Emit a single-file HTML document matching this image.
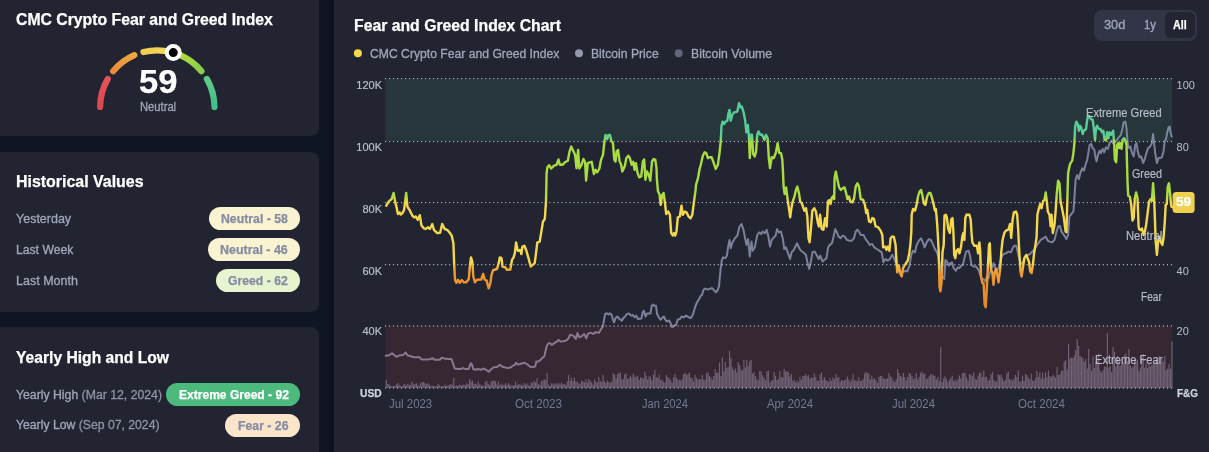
<!DOCTYPE html>
<html lang="en"><head><meta charset="utf-8"><title>CMC Crypto Fear and Greed Index</title>
<style>
html,body{margin:0;padding:0}
body{width:1209px;height:452px;overflow:hidden;position:relative;background:#0f1523;font-family:"Liberation Sans",sans-serif}
.abs{position:absolute}
.card{position:absolute;background:#222531}
.t{position:absolute;white-space:nowrap;display:inline-block}
.b{position:absolute;border-radius:12px}
</style></head><body>
<div class="card" style="left:0;top:0;width:319px;height:135.7px;border-radius:0 0 8px 0"></div>
<div class="card" style="left:0;top:151.6px;width:319px;height:160.4px;border-radius:0 8px 8px 0"></div>
<div class="card" style="left:0;top:327.3px;width:319px;height:125px;border-radius:0 8px 0 0"></div>
<div class="abs" style="left:328.8px;top:0;width:6px;height:452px;background:#0b111d"></div>
<div class="card" style="left:334px;top:0;width:875px;height:452px"></div>
<div class="abs" style="left:1093.7px;top:9.8px;width:103.7px;height:31.3px;border-radius:8px;background:#323546"></div>
<div class="abs" style="left:1164.8px;top:11.6px;width:30px;height:26.4px;border-radius:6px;background:#222531"></div>
<svg class="abs" style="left:0;top:0" width="319" height="136" viewBox="0 0 319 136"><defs><linearGradient id="g0" gradientUnits="userSpaceOnUse" x1="100.1" y1="107.0" x2="107.8" y2="78.9"><stop offset="0" stop-color="#dc474e"/><stop offset="1" stop-color="#e3525a"/></linearGradient><linearGradient id="g1" gradientUnits="userSpaceOnUse" x1="113.1" y1="71.2" x2="134.3" y2="55.1"><stop offset="0" stop-color="#ea8a36"/><stop offset="1" stop-color="#efab42"/></linearGradient><linearGradient id="g2" gradientUnits="userSpaceOnUse" x1="143.5" y1="52.0" x2="171.1" y2="52.0"><stop offset="0" stop-color="#f1cc55"/><stop offset="1" stop-color="#f3da5c"/></linearGradient><linearGradient id="g3" gradientUnits="userSpaceOnUse" x1="180.3" y1="55.1" x2="201.5" y2="71.2"><stop offset="0" stop-color="#b4da3a"/><stop offset="1" stop-color="#86cf4e"/></linearGradient><linearGradient id="g4" gradientUnits="userSpaceOnUse" x1="206.8" y1="78.9" x2="214.5" y2="107.0"><stop offset="0" stop-color="#62c985"/><stop offset="1" stop-color="#41c08c"/></linearGradient></defs><g fill="none" stroke-width="6.2" stroke-linecap="round"><path d="M100.10 107.00A57.2 57.2 0 0 1 107.76 78.90" stroke="url(#g0)"/><path d="M113.10 71.19A57.2 57.2 0 0 1 134.31 55.12" stroke="url(#g1)"/><path d="M143.46 52.00A57.2 57.2 0 0 1 171.14 52.00" stroke="url(#g2)"/><path d="M180.29 55.12A57.2 57.2 0 0 1 201.50 71.19" stroke="url(#g3)"/><path d="M206.84 78.90A57.2 57.2 0 0 1 214.50 107.00" stroke="url(#g4)"/></g><circle cx="173.26" cy="52.57" r="6.5" fill="#000" stroke="#fff" stroke-width="4"/></svg>
<svg class="abs" style="left:0;top:0" width="1209" height="452" viewBox="0 0 1209 452">
<defs><linearGradient id="fg" gradientUnits="userSpaceOnUse" x1="0" y1="78" x2="0" y2="388">
<stop offset="0.0000" stop-color="#4ecb9c"/><stop offset="0.1855" stop-color="#5bcc96"/><stop offset="0.2081" stop-color="#a8dc40"/><stop offset="0.3774" stop-color="#a8dc40"/><stop offset="0.4032" stop-color="#f3d74c"/><stop offset="0.5968" stop-color="#f3d74c"/><stop offset="0.6113" stop-color="#f2b540"/><stop offset="0.6290" stop-color="#ee9a33"/><stop offset="0.7161" stop-color="#e88a2a"/><stop offset="0.8129" stop-color="#e8862c"/><stop offset="1.0000" stop-color="#ea3943"/>
</linearGradient></defs>
<path d="M385.70 388V380.0h1.15V388zM387.14 388V384.1h1.15V388zM388.57 388V384.2h1.15V388zM390.01 388V385.7h1.15V388zM391.45 388V386.2h1.15V388zM392.88 388V385.9h1.15V388zM394.32 388V385.8h1.15V388zM395.75 388V384.6h1.15V388zM397.19 388V382.9h1.15V388zM398.63 388V384.7h1.15V388zM400.06 388V386.0h1.15V388zM401.50 388V386.2h1.15V388zM402.94 388V384.4h1.15V388zM404.37 388V384.3h1.15V388zM405.81 388V385.4h1.15V388zM407.25 388V383.8h1.15V388zM408.68 388V385.1h1.15V388zM410.12 388V384.8h1.15V388zM411.55 388V381.7h1.15V388zM412.99 388V384.5h1.15V388zM414.43 388V383.9h1.15V388zM415.86 388V383.3h1.15V388zM417.30 388V384.7h1.15V388zM418.74 388V385.7h1.15V388zM420.17 388V382.8h1.15V388zM421.61 388V382.1h1.15V388zM423.05 388V382.1h1.15V388zM424.48 388V383.2h1.15V388zM425.92 388V384.2h1.15V388zM427.36 388V382.9h1.15V388zM428.79 388V384.6h1.15V388zM430.23 388V385.9h1.15V388zM431.66 388V385.7h1.15V388zM433.10 388V385.8h1.15V388zM434.54 388V386.2h1.15V388zM435.97 388V386.3h1.15V388zM437.41 388V383.8h1.15V388zM438.85 388V384.9h1.15V388zM440.28 388V386.3h1.15V388zM441.72 388V385.9h1.15V388zM443.16 388V385.9h1.15V388zM444.59 388V384.6h1.15V388zM446.03 388V385.8h1.15V388zM447.46 388V385.5h1.15V388zM448.90 388V384.7h1.15V388zM450.34 388V384.0h1.15V388zM451.77 388V384.7h1.15V388zM453.21 388V378.0h1.15V388zM454.65 388V385.7h1.15V388zM456.08 388V385.2h1.15V388zM457.52 388V385.8h1.15V388zM458.96 388V384.5h1.15V388zM460.39 388V385.2h1.15V388zM461.83 388V385.0h1.15V388zM463.26 388V384.7h1.15V388zM464.70 388V385.0h1.15V388zM466.14 388V383.4h1.15V388zM467.57 388V383.9h1.15V388zM469.01 388V379.0h1.15V388zM470.45 388V381.4h1.15V388zM471.88 388V380.4h1.15V388zM473.32 388V383.7h1.15V388zM474.76 388V383.7h1.15V388zM476.19 388V384.6h1.15V388zM477.63 388V381.5h1.15V388zM479.06 388V384.4h1.15V388zM480.50 388V384.7h1.15V388zM481.94 388V385.6h1.15V388zM483.37 388V386.1h1.15V388zM484.81 388V382.0h1.15V388zM486.25 388V380.8h1.15V388zM487.68 388V383.8h1.15V388zM489.12 388V384.9h1.15V388zM490.56 388V381.6h1.15V388zM491.99 388V381.0h1.15V388zM493.43 388V380.2h1.15V388zM494.86 388V381.3h1.15V388zM496.30 388V384.6h1.15V388zM497.74 388V381.4h1.15V388zM499.17 388V385.3h1.15V388zM500.61 388V383.8h1.15V388zM502.05 388V385.0h1.15V388zM503.48 388V385.2h1.15V388zM504.92 388V383.3h1.15V388zM506.36 388V384.9h1.15V388zM507.79 388V383.1h1.15V388zM509.23 388V384.6h1.15V388zM510.67 388V385.5h1.15V388zM512.10 388V385.5h1.15V388zM513.54 388V385.3h1.15V388zM514.97 388V381.6h1.15V388zM516.41 388V384.8h1.15V388zM517.85 388V384.4h1.15V388zM519.28 388V384.2h1.15V388zM520.72 388V384.4h1.15V388zM522.16 388V385.4h1.15V388zM523.59 388V382.9h1.15V388zM525.03 388V384.5h1.15V388zM526.47 388V383.5h1.15V388zM527.90 388V385.4h1.15V388zM529.34 388V385.3h1.15V388zM530.77 388V382.6h1.15V388zM532.21 388V382.8h1.15V388zM533.65 388V380.8h1.15V388zM535.08 388V382.3h1.15V388zM536.52 388V378.0h1.15V388zM537.96 388V384.1h1.15V388zM539.39 388V384.9h1.15V388zM540.83 388V381.1h1.15V388zM542.27 388V380.4h1.15V388zM543.70 388V378.9h1.15V388zM545.14 388V380.2h1.15V388zM546.57 388V373.0h1.15V388zM548.01 388V384.6h1.15V388zM549.45 388V385.9h1.15V388zM550.88 388V383.2h1.15V388zM552.32 388V383.6h1.15V388zM553.76 388V384.6h1.15V388zM555.19 388V383.3h1.15V388zM556.63 388V384.2h1.15V388zM558.07 388V382.9h1.15V388zM559.50 388V384.5h1.15V388zM560.94 388V382.2h1.15V388zM562.37 388V383.9h1.15V388zM563.81 388V383.9h1.15V388zM565.25 388V385.1h1.15V388zM566.68 388V381.4h1.15V388zM568.12 388V375.0h1.15V388zM569.56 388V380.4h1.15V388zM570.99 388V377.9h1.15V388zM572.43 388V381.0h1.15V388zM573.87 388V377.7h1.15V388zM575.30 388V381.5h1.15V388zM576.74 388V381.8h1.15V388zM578.17 388V383.4h1.15V388zM579.61 388V383.5h1.15V388zM581.05 388V380.8h1.15V388zM582.48 388V381.6h1.15V388zM583.92 388V382.4h1.15V388zM585.36 388V379.3h1.15V388zM586.79 388V382.8h1.15V388zM588.23 388V379.0h1.15V388zM589.67 388V380.9h1.15V388zM591.10 388V382.3h1.15V388zM592.54 388V384.4h1.15V388zM593.98 388V379.4h1.15V388zM595.41 388V381.4h1.15V388zM596.85 388V382.6h1.15V388zM598.28 388V376.9h1.15V388zM599.72 388V380.9h1.15V388zM601.16 388V381.9h1.15V388zM602.59 388V375.0h1.15V388zM604.03 388V381.4h1.15V388zM605.47 388V382.8h1.15V388zM606.90 388V380.6h1.15V388zM608.34 388V381.9h1.15V388zM609.78 388V382.7h1.15V388zM611.21 388V381.4h1.15V388zM612.65 388V373.0h1.15V388zM614.08 388V374.6h1.15V388zM615.52 388V378.1h1.15V388zM616.96 388V374.3h1.15V388zM618.39 388V373.0h1.15V388zM619.83 388V372.5h1.15V388zM621.27 388V379.5h1.15V388zM622.70 388V378.8h1.15V388zM624.14 388V374.4h1.15V388zM625.58 388V372.9h1.15V388zM627.01 388V379.0h1.15V388zM628.45 388V377.8h1.15V388zM629.88 388V375.7h1.15V388zM631.32 388V377.6h1.15V388zM632.76 388V373.8h1.15V388zM634.19 388V376.8h1.15V388zM635.63 388V376.8h1.15V388zM637.07 388V375.8h1.15V388zM638.50 388V380.0h1.15V388zM639.94 388V377.1h1.15V388zM641.38 388V377.9h1.15V388zM642.81 388V378.5h1.15V388zM644.25 388V371.5h1.15V388zM645.68 388V375.8h1.15V388zM647.12 388V379.6h1.15V388zM648.56 388V376.3h1.15V388zM649.99 388V377.1h1.15V388zM651.43 388V380.4h1.15V388zM652.87 388V374.8h1.15V388zM654.30 388V370.0h1.15V388zM655.74 388V376.9h1.15V388zM657.18 388V377.9h1.15V388zM658.61 388V374.4h1.15V388zM660.05 388V380.3h1.15V388zM661.49 388V379.2h1.15V388zM662.92 388V381.4h1.15V388zM664.36 388V382.4h1.15V388zM665.79 388V375.1h1.15V388zM667.23 388V377.1h1.15V388zM668.67 388V378.2h1.15V388zM670.10 388V380.6h1.15V388zM671.54 388V383.1h1.15V388zM672.98 388V377.3h1.15V388zM674.41 388V373.7h1.15V388zM675.85 388V377.7h1.15V388zM677.29 388V379.3h1.15V388zM678.72 388V379.8h1.15V388zM680.16 388V380.5h1.15V388zM681.59 388V379.0h1.15V388zM683.03 388V374.1h1.15V388zM684.47 388V372.4h1.15V388zM685.90 388V374.8h1.15V388zM687.34 388V374.2h1.15V388zM688.78 388V372.5h1.15V388zM690.21 388V377.5h1.15V388zM691.65 388V378.3h1.15V388zM693.09 388V381.5h1.15V388zM694.52 388V375.0h1.15V388zM695.96 388V377.8h1.15V388zM697.39 388V380.1h1.15V388zM698.83 388V379.1h1.15V388zM700.27 388V379.0h1.15V388zM701.70 388V375.0h1.15V388zM703.14 388V379.5h1.15V388zM704.58 388V380.0h1.15V388zM706.01 388V373.2h1.15V388zM707.45 388V372.2h1.15V388zM708.89 388V376.0h1.15V388zM710.32 388V377.3h1.15V388zM711.76 388V379.6h1.15V388zM713.19 388V376.1h1.15V388zM714.63 388V369.0h1.15V388zM716.07 388V372.7h1.15V388zM717.50 388V372.5h1.15V388zM718.94 388V362.5h1.15V388zM720.38 388V375.9h1.15V388zM721.81 388V357.4h1.15V388zM723.25 388V371.2h1.15V388zM724.69 388V362.0h1.15V388zM726.12 388V368.0h1.15V388zM727.56 388V366.7h1.15V388zM728.99 388V351.0h1.15V388zM730.43 388V358.0h1.15V388zM731.87 388V367.3h1.15V388zM733.30 388V370.2h1.15V388zM734.74 388V368.6h1.15V388zM736.18 388V372.5h1.15V388zM737.61 388V362.0h1.15V388zM739.05 388V365.0h1.15V388zM740.49 388V369.6h1.15V388zM741.92 388V370.5h1.15V388zM743.36 388V360.0h1.15V388zM744.80 388V367.6h1.15V388zM746.23 388V360.0h1.15V388zM747.67 388V365.9h1.15V388zM749.10 388V361.5h1.15V388zM750.54 388V360.1h1.15V388zM751.98 388V373.8h1.15V388zM753.41 388V372.0h1.15V388zM754.85 388V376.0h1.15V388zM756.29 388V378.5h1.15V388zM757.72 388V380.5h1.15V388zM759.16 388V371.1h1.15V388zM760.60 388V371.5h1.15V388zM762.03 388V375.2h1.15V388zM763.47 388V377.4h1.15V388zM764.90 388V380.2h1.15V388zM766.34 388V371.6h1.15V388zM767.78 388V370.6h1.15V388zM769.21 388V382.7h1.15V388zM770.65 388V380.8h1.15V388zM772.09 388V380.1h1.15V388zM773.52 388V371.8h1.15V388zM774.96 388V375.7h1.15V388zM776.40 388V379.9h1.15V388zM777.83 388V378.8h1.15V388zM779.27 388V371.1h1.15V388zM780.70 388V377.0h1.15V388zM782.14 388V377.2h1.15V388zM783.58 388V369.0h1.15V388zM785.01 388V371.6h1.15V388zM786.45 388V371.0h1.15V388zM787.89 388V372.3h1.15V388zM789.32 388V376.5h1.15V388zM790.76 388V373.9h1.15V388zM792.20 388V380.7h1.15V388zM793.63 388V379.7h1.15V388zM795.07 388V382.4h1.15V388zM796.50 388V380.5h1.15V388zM797.94 388V382.2h1.15V388zM799.38 388V376.8h1.15V388zM800.81 388V379.8h1.15V388zM802.25 388V376.1h1.15V388zM803.69 388V376.1h1.15V388zM805.12 388V373.8h1.15V388zM806.56 388V375.9h1.15V388zM808.00 388V375.3h1.15V388zM809.43 388V378.7h1.15V388zM810.87 388V377.5h1.15V388zM812.30 388V377.8h1.15V388zM813.74 388V373.3h1.15V388zM815.18 388V377.1h1.15V388zM816.61 388V380.5h1.15V388zM818.05 388V381.1h1.15V388zM819.49 388V374.5h1.15V388zM820.92 388V372.2h1.15V388zM822.36 388V380.0h1.15V388zM823.80 388V377.0h1.15V388zM825.23 388V379.8h1.15V388zM826.67 388V380.7h1.15V388zM828.11 388V381.7h1.15V388zM829.54 388V378.0h1.15V388zM830.98 388V381.1h1.15V388zM832.41 388V377.6h1.15V388zM833.85 388V379.1h1.15V388zM835.29 388V373.7h1.15V388zM836.72 388V377.7h1.15V388zM838.16 388V376.9h1.15V388zM839.60 388V381.7h1.15V388zM841.03 388V379.9h1.15V388zM842.47 388V380.7h1.15V388zM843.91 388V380.2h1.15V388zM845.34 388V379.6h1.15V388zM846.78 388V376.6h1.15V388zM848.21 388V379.5h1.15V388zM849.65 388V381.8h1.15V388zM851.09 388V379.5h1.15V388zM852.52 388V373.9h1.15V388zM853.96 388V380.6h1.15V388zM855.40 388V380.2h1.15V388zM856.83 388V381.0h1.15V388zM858.27 388V377.1h1.15V388zM859.71 388V380.9h1.15V388zM861.14 388V380.7h1.15V388zM862.58 388V379.0h1.15V388zM864.01 388V373.6h1.15V388zM865.45 388V371.8h1.15V388zM866.89 388V373.0h1.15V388zM868.32 388V373.6h1.15V388zM869.76 388V379.2h1.15V388zM871.20 388V375.5h1.15V388zM872.63 388V379.3h1.15V388zM874.07 388V378.2h1.15V388zM875.51 388V380.3h1.15V388zM876.94 388V382.7h1.15V388zM878.38 388V376.9h1.15V388zM879.81 388V376.0h1.15V388zM881.25 388V376.0h1.15V388zM882.69 388V378.2h1.15V388zM884.12 388V379.1h1.15V388zM885.56 388V378.8h1.15V388zM887.00 388V378.2h1.15V388zM888.43 388V373.3h1.15V388zM889.87 388V376.5h1.15V388zM891.31 388V377.5h1.15V388zM892.74 388V380.6h1.15V388zM894.18 388V382.0h1.15V388zM895.61 388V379.2h1.15V388zM897.05 388V369.0h1.15V388zM898.49 388V373.0h1.15V388zM899.92 388V376.0h1.15V388zM901.36 388V377.1h1.15V388zM902.80 388V372.9h1.15V388zM904.23 388V377.1h1.15V388zM905.67 388V380.5h1.15V388zM907.11 388V376.7h1.15V388zM908.54 388V373.2h1.15V388zM909.98 388V373.6h1.15V388zM911.42 388V376.1h1.15V388zM912.85 388V379.2h1.15V388zM914.29 388V378.2h1.15V388zM915.72 388V373.3h1.15V388zM917.16 388V379.6h1.15V388zM918.60 388V377.0h1.15V388zM920.03 388V372.8h1.15V388zM921.47 388V371.4h1.15V388zM922.91 388V374.1h1.15V388zM924.34 388V373.6h1.15V388zM925.78 388V379.0h1.15V388zM927.22 388V378.6h1.15V388zM928.65 388V376.3h1.15V388zM930.09 388V374.1h1.15V388zM931.52 388V374.8h1.15V388zM932.96 388V375.3h1.15V388zM934.40 388V376.1h1.15V388zM935.83 388V379.5h1.15V388zM937.27 388V377.3h1.15V388zM938.71 388V380.9h1.15V388zM940.14 388V347.0h1.15V388zM941.58 388V382.1h1.15V388zM943.02 388V378.5h1.15V388zM944.45 388V376.4h1.15V388zM945.89 388V378.8h1.15V388zM947.32 388V382.3h1.15V388zM948.76 388V380.1h1.15V388zM950.20 388V377.9h1.15V388zM951.63 388V376.0h1.15V388zM953.07 388V381.0h1.15V388zM954.51 388V379.5h1.15V388zM955.94 388V381.6h1.15V388zM957.38 388V378.9h1.15V388zM958.82 388V375.4h1.15V388zM960.25 388V378.3h1.15V388zM961.69 388V373.2h1.15V388zM963.12 388V372.7h1.15V388zM964.56 388V372.7h1.15V388zM966.00 388V377.5h1.15V388zM967.43 388V380.6h1.15V388zM968.87 388V374.0h1.15V388zM970.31 388V374.4h1.15V388zM971.74 388V375.9h1.15V388zM973.18 388V372.3h1.15V388zM974.62 388V378.8h1.15V388zM976.05 388V379.7h1.15V388zM977.49 388V375.7h1.15V388zM978.93 388V372.5h1.15V388zM980.36 388V372.7h1.15V388zM981.80 388V377.0h1.15V388zM983.23 388V370.3h1.15V388zM984.67 388V377.1h1.15V388zM986.11 388V376.8h1.15V388zM987.54 388V380.7h1.15V388zM988.98 388V379.7h1.15V388zM990.42 388V374.3h1.15V388zM991.85 388V371.7h1.15V388zM993.29 388V379.7h1.15V388zM994.73 388V381.6h1.15V388zM996.16 388V381.4h1.15V388zM997.60 388V374.2h1.15V388zM999.03 388V375.2h1.15V388zM1000.47 388V374.5h1.15V388zM1001.91 388V378.1h1.15V388zM1003.34 388V381.1h1.15V388zM1004.78 388V379.9h1.15V388zM1006.22 388V373.6h1.15V388zM1007.65 388V371.4h1.15V388zM1009.09 388V378.9h1.15V388zM1010.53 388V379.5h1.15V388zM1011.96 388V380.8h1.15V388zM1013.40 388V378.4h1.15V388zM1014.83 388V375.1h1.15V388zM1016.27 388V376.9h1.15V388zM1017.71 388V370.3h1.15V388zM1019.14 388V382.3h1.15V388zM1020.58 388V380.7h1.15V388zM1022.02 388V375.7h1.15V388zM1023.45 388V381.1h1.15V388zM1024.89 388V374.0h1.15V388zM1026.33 388V375.0h1.15V388zM1027.76 388V377.6h1.15V388zM1029.20 388V379.6h1.15V388zM1030.63 388V373.5h1.15V388zM1032.07 388V380.2h1.15V388zM1033.51 388V380.9h1.15V388zM1034.94 388V377.9h1.15V388zM1036.38 388V371.0h1.15V388zM1037.82 388V377.1h1.15V388zM1039.25 388V372.6h1.15V388zM1040.69 388V378.4h1.15V388zM1042.13 388V372.4h1.15V388zM1043.56 388V378.4h1.15V388zM1045.00 388V372.6h1.15V388zM1046.43 388V377.2h1.15V388zM1047.87 388V370.5h1.15V388zM1049.31 388V376.0h1.15V388zM1050.74 388V377.1h1.15V388zM1052.18 388V375.3h1.15V388zM1053.62 388V375.7h1.15V388zM1055.05 388V377.7h1.15V388zM1056.49 388V367.0h1.15V388zM1057.93 388V374.9h1.15V388zM1059.36 388V374.3h1.15V388zM1060.80 388V370.5h1.15V388zM1062.24 388V371.1h1.15V388zM1063.67 388V361.6h1.15V388zM1065.11 388V360.0h1.15V388zM1066.54 388V369.6h1.15V388zM1067.98 388V344.0h1.15V388zM1069.42 388V358.2h1.15V388zM1070.85 388V357.8h1.15V388zM1072.29 388V358.0h1.15V388zM1073.73 388V355.2h1.15V388zM1075.16 388V350.0h1.15V388zM1076.60 388V339.0h1.15V388zM1078.04 388V346.0h1.15V388zM1079.47 388V356.0h1.15V388zM1080.91 388V357.0h1.15V388zM1082.34 388V358.0h1.15V388zM1083.78 388V361.9h1.15V388zM1085.22 388V359.0h1.15V388zM1086.65 388V368.6h1.15V388zM1088.09 388V349.0h1.15V388zM1089.53 388V363.9h1.15V388zM1090.96 388V370.8h1.15V388zM1092.40 388V356.6h1.15V388zM1093.84 388V367.9h1.15V388zM1095.27 388V361.7h1.15V388zM1096.71 388V361.0h1.15V388zM1098.14 388V353.4h1.15V388zM1099.58 388V370.6h1.15V388zM1101.02 388V372.7h1.15V388zM1102.45 388V370.0h1.15V388zM1103.89 388V366.2h1.15V388zM1105.33 388V367.1h1.15V388zM1106.76 388V333.0h1.15V388zM1108.20 388V367.8h1.15V388zM1109.64 388V366.1h1.15V388zM1111.07 388V372.1h1.15V388zM1112.51 388V347.0h1.15V388zM1113.94 388V352.0h1.15V388zM1115.38 388V366.6h1.15V388zM1116.82 388V356.0h1.15V388zM1118.25 388V360.7h1.15V388zM1119.69 388V365.7h1.15V388zM1121.13 388V363.9h1.15V388zM1122.56 388V362.2h1.15V388zM1124.00 388V355.1h1.15V388zM1125.44 388V353.3h1.15V388zM1126.87 388V361.0h1.15V388zM1128.31 388V349.0h1.15V388zM1129.74 388V365.6h1.15V388zM1131.18 388V367.4h1.15V388zM1132.62 388V366.4h1.15V388zM1134.05 388V360.9h1.15V388zM1135.49 388V360.5h1.15V388zM1136.93 388V359.4h1.15V388zM1138.36 388V370.8h1.15V388zM1139.80 388V367.5h1.15V388zM1141.24 388V357.9h1.15V388zM1142.67 388V353.9h1.15V388zM1144.11 388V367.8h1.15V388zM1145.55 388V363.3h1.15V388zM1146.98 388V368.1h1.15V388zM1148.42 388V364.0h1.15V388zM1149.85 388V366.6h1.15V388zM1151.29 388V364.5h1.15V388zM1152.73 388V364.2h1.15V388zM1154.16 388V363.8h1.15V388zM1155.60 388V360.1h1.15V388zM1157.04 388V363.1h1.15V388zM1158.47 388V356.2h1.15V388zM1159.91 388V363.2h1.15V388zM1161.35 388V358.8h1.15V388zM1162.78 388V361.8h1.15V388zM1164.22 388V355.9h1.15V388zM1165.65 388V369.7h1.15V388zM1167.09 388V368.4h1.15V388zM1168.53 388V364.2h1.15V388zM1169.96 388V368.7h1.15V388zM1171.40 388V341.4h1.15V388z" fill="#858aa3" fill-opacity="0.66"/>
<path d="M385.8 355.7L389.1 355.2L392.0 353.2L394.1 354.9L396.6 356.8L399.9 355.2L403.2 354.9L405.7 352.4L407.4 355.2L410.7 356.2L414.0 357.3L419.8 357.3L421.5 359.5L426.5 359.5L429.8 359.2L432.3 358.2L434.8 359.8L439.8 359.8L441.7 357.8L444.7 358.5L448.0 359.0L451.4 359.0L453.0 363.2L454.7 368.5L457.2 369.0L460.5 369.0L463.0 368.1L465.5 369.1L468.8 369.0L470.0 364.8L471.0 363.2L472.1 365.1L473.3 369.0L475.4 369.8L477.9 369.0L481.2 369.8L483.2 368.5L486.2 369.8L488.7 371.8L490.9 369.5L493.7 367.3L497.0 367.0L499.8 364.8L502.0 366.5L504.5 367.3L507.8 368.1L511.1 367.3L512.8 365.6L514.8 365.1L516.1 362.8L517.8 364.5L520.2 364.0L522.4 363.2L524.7 362.8L527.4 364.5L530.2 366.8L532.7 367.0L535.2 366.5L536.3 361.5L538.5 361.5L540.7 359.8L542.3 357.8L544.3 356.5L545.6 350.7L546.8 345.7L548.5 343.2L550.1 343.2L551.8 344.9L554.3 343.2L556.8 341.6L558.4 339.9L560.6 341.6L563.4 341.2L566.7 340.2L568.9 337.9L570.0 334.7L573.3 335.6L575.8 338.9L577.5 333.1L579.1 337.2L581.6 336.4L584.1 333.9L586.3 338.4L587.9 333.9L590.7 332.7L593.2 333.9L595.7 332.2L599.0 332.7L601.2 328.9L602.9 326.4L604.0 319.8L605.2 314.0L606.8 313.2L608.5 314.5L609.8 313.2L611.5 314.5L612.8 319.0L614.0 322.3L615.6 318.1L617.3 316.5L619.5 319.0L621.8 320.6L623.4 318.1L625.1 316.5L626.8 314.0L628.9 313.5L631.1 315.6L632.7 314.8L634.4 317.3L636.1 315.6L638.0 319.0L641.4 318.5L642.7 312.3L643.9 310.7L645.5 316.5L647.2 313.5L650.5 313.5L651.7 305.7L653.0 304.5L654.3 305.7L656.0 305.7L657.1 314.0L658.8 317.3L660.5 319.8L662.1 318.1L663.8 316.5L665.4 319.8L667.1 321.5L669.3 320.6L670.9 323.9L672.1 327.3L674.2 325.6L676.2 324.8L677.6 319.8L679.9 319.0L681.5 316.5L683.7 317.3L686.2 315.6L688.7 317.3L690.8 318.1L692.8 314.8L695.3 306.5L697.0 302.4L699.1 299.0L700.8 295.7L702.0 294.9L703.6 289.6L705.3 288.6L707.8 289.6L710.2 288.6L712.4 288.3L714.4 290.7L716.1 292.4L717.7 289.9L719.0 286.6L719.6 279.7L720.7 268.1L721.9 259.8L723.2 257.3L725.2 258.2L726.9 255.7L728.2 246.5L729.5 239.9L730.7 248.2L732.4 242.4L734.9 238.2L737.3 235.7L739.5 226.6L741.5 224.1L743.5 229.9L745.1 238.2L746.5 244.9L748.1 239.1L749.8 256.5L751.5 241.6L752.8 250.7L754.8 247.4L757.3 234.9L759.4 232.4L761.1 234.1L762.7 231.6L764.7 233.3L766.7 229.9L768.4 236.6L770.0 246.5L771.7 239.9L773.9 237.4L775.5 235.7L777.2 229.1L778.8 232.4L781.0 231.6L782.7 238.2L784.3 249.0L786.0 247.4L788.0 253.2L790.0 259.0L791.6 252.3L793.8 249.9L795.4 246.5L797.1 243.2L798.8 247.4L800.9 250.7L803.2 252.3L805.9 254.8L807.6 263.1L809.2 268.9L810.9 261.5L812.5 252.3L814.5 251.5L816.5 254.8L818.7 259.0L820.3 255.7L822.5 261.5L824.5 259.8L826.5 258.2L828.1 247.4L829.8 244.9L832.0 243.2L833.6 236.6L835.3 229.1L836.9 232.4L838.6 236.6L840.7 238.2L842.7 235.7L844.7 236.6L846.9 239.9L849.4 240.7L851.9 240.7L854.0 238.2L855.7 231.6L857.3 229.6L859.0 231.6L860.7 234.9L863.5 234.9L865.6 239.1L867.6 241.6L869.6 244.9L872.3 244.0L874.3 247.4L876.8 249.0L879.3 250.7L881.7 252.3L883.4 262.3L885.6 259.0L887.6 260.6L890.0 259.0L892.2 254.8L894.2 258.2L895.9 263.1L898.0 268.0L901.0 272.0L903.5 272.0L905.5 270.7L907.2 271.5L909.3 266.5L911.3 254.9L913.0 250.8L915.0 252.4L916.6 245.0L918.8 240.8L921.0 238.3L922.6 241.6L924.6 247.4L926.6 242.5L928.8 239.1L930.9 240.0L932.9 244.1L934.9 249.1L937.1 252.4L938.2 256.6L940.0 266.0L942.0 276.0L944.2 279.0L945.4 259.9L947.0 261.6L948.7 265.7L950.3 263.2L952.0 262.4L953.7 268.2L955.8 270.7L957.8 267.4L959.5 268.2L961.1 265.7L962.8 264.9L964.4 258.2L966.1 251.6L968.6 250.8L970.2 256.6L971.4 264.9L973.6 266.5L976.1 266.5L978.5 269.9L980.2 274.8L981.9 279.8L983.5 279.0L985.2 281.5L986.8 276.5L988.5 278.2L990.2 271.5L991.8 268.2L993.5 263.2L995.1 267.4L996.8 270.7L998.5 268.2L1000.1 263.2L1001.8 256.6L1003.4 254.1L1005.9 253.3L1008.4 251.6L1010.9 252.4L1012.6 248.3L1014.2 245.8L1016.2 245.8L1017.6 251.6L1019.0 258.0L1021.0 264.0L1023.0 262.0L1024.2 258.2L1026.0 256.0L1030.0 254.0L1034.0 250.0L1038.2 243.3L1040.7 239.9L1043.2 238.3L1045.7 236.6L1047.8 240.8L1049.8 241.6L1052.3 242.4L1054.5 239.9L1056.1 233.3L1058.1 226.7L1059.8 225.8L1061.5 231.6L1063.9 235.0L1066.4 239.1L1068.1 235.0L1069.4 216.4L1071.4 214.0L1073.4 211.5L1074.4 198.2L1075.6 179.9L1077.2 175.0L1078.9 179.1L1080.5 172.5L1082.2 168.3L1083.9 170.8L1085.5 164.7L1087.2 159.7L1088.3 153.1L1089.7 144.8L1091.3 144.0L1092.7 148.1L1094.3 149.8L1095.5 157.2L1096.6 161.4L1098.0 154.8L1099.6 150.6L1101.0 153.1L1102.6 148.9L1104.3 152.3L1105.9 147.3L1107.9 148.9L1109.6 143.1L1111.6 140.6L1113.2 143.1L1115.0 142.0L1117.1 139.8L1118.7 137.3L1120.9 134.8L1122.5 128.2L1123.7 122.4L1125.4 121.6L1126.5 128.2L1127.5 141.5L1128.7 148.1L1130.3 146.5L1132.0 153.1L1133.7 156.4L1135.3 144.8L1136.5 143.1L1137.8 151.4L1139.5 157.2L1141.1 156.4L1143.1 163.0L1144.8 158.9L1146.4 153.1L1148.1 148.1L1150.2 146.5L1151.9 143.1L1153.1 134.0L1154.1 143.1L1155.2 153.1L1156.9 163.0L1158.5 158.1L1160.2 158.1L1161.9 157.2L1163.5 151.4L1164.7 141.5L1166.0 139.0L1167.3 132.3L1168.5 127.4L1169.7 126.5L1170.7 133.2L1171.8 136.5" fill="none" stroke="#7c819a" stroke-width="2" stroke-linejoin="round" stroke-linecap="round"/>
<rect x="385.5" y="78.5" width="786.7" height="63.099999999999994" fill="#4acf95" fill-opacity="0.1"/>
<rect x="385.5" y="325.9" width="786.7" height="62.10000000000002" fill="#ea3943" fill-opacity="0.1"/>
<g stroke="#c6cad6" stroke-width="1.25" stroke-linecap="round" stroke-dasharray="0.01 4"><line x1="385.5" x2="1172.2" y1="78.5" y2="78.5"/><line x1="385.5" x2="1172.2" y1="141.6" y2="141.6"/><line x1="385.5" x2="1172.2" y1="202.6" y2="202.6"/><line x1="385.5" x2="1172.2" y1="264.7" y2="264.7"/><line x1="385.5" x2="1172.2" y1="325.9" y2="325.9"/><line x1="385.5" x2="1172.2" y1="388.0" y2="388.0"/></g>
<path d="M386.3 205.7L389.1 201.2L391.6 199.1L393.6 192.9L395.3 202.4L396.6 207.4L397.9 214.0L399.6 212.4L400.7 214.5L402.4 213.2L404.1 209.9L406.2 192.9L407.4 206.6L409.9 210.7L412.4 215.7L414.0 217.3L415.7 216.5L417.8 219.8L419.8 215.2L421.5 225.6L423.5 228.1L425.6 229.0L428.1 227.3L429.8 229.0L432.3 224.0L433.9 229.8L437.3 233.1L440.1 232.8L442.2 224.0L444.7 229.0L447.2 229.8L449.7 232.8L451.7 235.6L453.0 241.4L453.4 243.3L454.2 264.9L455.0 279.8L456.3 282.8L458.0 279.8L459.7 282.8L461.7 280.1L463.8 282.3L466.3 282.3L468.8 279.0L470.0 264.9L471.0 257.4L472.3 261.6L473.3 276.5L474.9 282.3L477.1 279.8L481.2 279.5L483.2 274.0L484.6 279.5L486.6 280.6L488.7 288.4L490.4 283.1L491.5 274.8L493.2 270.2L497.0 269.0L498.7 263.2L499.8 257.4L501.5 258.2L502.5 266.5L505.3 267.4L507.0 269.9L510.3 269.5L512.0 259.9L513.6 257.4L514.8 253.3L516.1 242.5L517.8 250.8L520.2 249.9L521.4 254.1L522.4 246.6L524.4 245.8L526.4 250.8L528.5 258.2L530.7 266.5L532.7 264.9L534.7 263.2L536.0 253.3L537.3 242.5L539.7 241.6L541.3 232.0L543.0 221.5L544.8 219.0L546.0 201.6L546.6 173.1L547.4 167.3L549.1 165.2L551.2 168.5L554.1 165.7L556.6 164.8L558.5 159.5L559.9 164.8L562.4 164.8L564.9 162.3L567.8 160.7L569.5 151.6L571.2 146.6L573.2 150.7L575.1 154.9L576.5 168.2L578.1 149.9L579.3 168.5L581.5 164.8L583.4 159.0L585.1 162.3L586.1 180.6L587.8 163.2L589.8 162.3L591.7 161.8L593.9 174.0L595.6 169.8L597.2 172.3L599.4 168.5L601.0 159.9L603.0 154.9L604.4 141.6L605.5 135.0L607.2 139.1L608.3 135.0L610.0 135.0L611.3 140.8L613.0 143.3L614.3 159.9L615.5 161.5L616.6 151.6L618.0 149.9L619.6 161.5L621.0 164.0L622.3 171.5L623.8 168.2L624.9 165.7L626.3 158.2L628.3 155.7L629.9 158.2L631.6 164.8L633.2 161.8L634.6 169.8L635.9 163.2L637.6 173.1L639.2 177.3L641.2 176.5L642.9 161.5L644.2 159.5L645.4 179.8L647.0 171.5L648.7 174.8L650.3 180.6L652.0 161.5L653.7 159.0L655.3 159.9L656.5 168.2L656.8 178.0L657.9 190.8L659.6 194.9L660.7 204.9L662.1 194.9L663.6 192.9L664.9 202.4L666.2 214.0L668.2 211.5L669.9 214.8L671.2 233.1L672.9 235.6L674.0 233.1L675.2 235.6L676.5 231.4L677.8 217.3L679.8 216.5L681.5 205.7L682.8 214.8L684.8 211.5L686.5 212.3L688.5 216.5L690.6 218.2L692.3 214.8L693.9 202.4L695.6 189.9L696.0 184.8L698.0 178.1L699.6 169.0L700.8 164.7L702.9 155.6L704.6 152.3L706.3 153.1L707.9 158.1L709.6 157.2L711.6 157.2L713.2 161.4L715.7 168.9L717.9 164.7L719.5 153.1L720.7 141.5L721.5 125.7L722.7 121.6L724.0 124.0L725.7 121.6L727.3 120.7L728.5 113.3L729.5 109.9L730.7 120.7L732.3 114.9L734.0 112.4L737.3 111.6L739.0 103.3L740.6 107.4L741.8 106.6L743.4 111.6L745.1 119.9L746.4 132.3L747.8 124.9L748.9 136.5L749.8 158.1L750.9 134.8L752.0 134.8L753.1 153.9L754.7 156.4L756.1 151.4L757.2 134.8L758.4 131.5L760.5 134.8L762.2 134.8L764.4 139.8L766.0 134.8L767.7 138.2L768.8 158.1L770.0 168.0L771.7 157.2L773.8 158.1L776.0 152.3L777.6 143.1L779.3 153.1L781.0 153.1L782.3 159.7L782.9 170.0L783.6 186.6L784.7 194.1L786.1 187.4L787.7 199.9L788.9 208.2L790.2 217.3L791.4 208.2L792.7 201.6L794.4 196.6L796.0 189.9L797.3 186.6L799.0 193.3L800.2 201.6L801.8 203.2L804.3 210.7L806.0 208.2L807.3 216.5L808.5 238.1L809.6 242.2L811.0 228.1L812.3 210.7L814.3 208.2L815.9 211.5L817.9 223.1L818.9 226.5L820.1 214.8L821.7 228.9L823.4 229.8L825.1 218.2L826.7 226.5L827.9 201.6L829.2 199.9L830.5 204.0L831.7 198.2L833.4 195.7L834.2 199.0L834.6 178.3L835.8 171.6L837.5 179.9L839.1 187.4L840.8 189.9L842.9 188.2L844.6 187.4L846.3 194.0L847.4 199.0L849.1 196.5L850.2 201.5L852.4 202.3L854.1 198.2L855.7 186.6L857.4 183.3L859.0 186.6L860.7 199.0L863.2 199.9L864.9 204.8L866.2 213.1L867.3 209.8L869.0 221.4L870.7 222.3L872.3 218.1L874.0 218.9L875.6 226.4L878.1 227.2L880.6 230.6L882.3 235.0L883.1 247.4L885.1 246.6L886.4 249.9L887.8 246.6L889.4 250.8L890.6 238.3L892.2 236.4L893.9 236.9L895.6 245.0L896.4 259.9L897.2 272.3L898.9 265.7L900.0 273.2L901.7 276.5L903.0 268.2L905.5 264.0L907.7 260.7L909.3 253.3L910.5 243.3L911.3 232.0L911.7 214.8L913.0 209.0L915.0 210.6L916.6 204.8L918.0 196.5L919.6 191.6L921.0 189.9L922.3 194.9L923.8 203.2L925.4 204.8L927.1 196.5L928.8 192.9L930.4 192.9L932.1 198.2L933.7 204.8L934.9 210.6L935.9 209.0L937.1 223.1L937.9 236.4L938.7 251.6L939.5 286.5L940.4 291.4L941.5 283.1L942.5 252.4L943.7 245.0L944.5 215.6L945.9 214.8L947.0 218.1L948.2 228.9L949.8 233.0L951.2 219.8L952.5 218.1L953.4 232.0L954.2 254.9L955.3 258.2L956.5 250.8L958.1 249.1L959.5 253.3L961.1 246.6L962.4 236.0L963.3 233.0L964.4 240.0L965.3 218.1L966.4 214.8L969.4 214.8L970.7 219.8L971.6 234.0L972.4 242.5L974.4 245.8L976.9 245.8L978.1 253.3L979.4 242.5L980.2 251.6L981.0 276.5L982.4 283.1L983.6 283.5L984.7 304.7L985.7 307.2L986.8 288.1L988.0 264.9L989.0 245.0L989.8 243.3L991.0 269.9L992.3 272.3L993.5 284.8L994.6 273.2L996.0 269.0L997.3 274.8L998.5 282.3L1000.1 269.9L1001.3 251.6L1002.6 240.0L1004.3 233.0L1005.9 230.6L1008.4 229.7L1010.1 223.9L1011.2 238.0L1012.6 219.8L1013.9 212.3L1015.9 211.5L1017.2 214.8L1018.2 230.0L1018.9 245.0L1019.5 255.0L1020.5 271.5L1021.6 276.5L1022.9 268.0L1024.3 258.2L1026.3 254.9L1027.9 259.0L1029.1 262.0L1030.2 271.5L1031.6 273.1L1032.9 264.8L1034.1 253.2L1035.2 246.6L1036.6 237.0L1037.4 214.8L1038.5 209.8L1040.2 204.0L1041.5 208.2L1043.2 200.7L1044.5 199.9L1045.7 192.4L1046.8 201.5L1047.8 211.5L1049.5 214.8L1050.7 226.4L1051.5 214.8L1052.8 233.0L1054.5 224.7L1055.6 211.5L1056.8 193.2L1058.1 180.8L1059.5 183.3L1060.6 201.5L1062.3 209.8L1063.9 218.1L1065.6 231.4L1066.4 232.2L1067.3 201.5L1068.1 173.3L1069.4 166.7L1070.1 163.9L1072.2 160.6L1073.4 153.1L1074.4 143.1L1075.1 126.5L1076.4 121.6L1077.7 124.0L1078.9 130.7L1080.0 125.7L1081.4 128.2L1082.7 134.0L1083.9 130.7L1086.0 129.0L1087.2 119.9L1088.3 115.7L1089.7 116.6L1091.0 119.1L1092.7 119.9L1093.8 128.2L1095.0 139.8L1096.0 128.2L1097.1 125.7L1098.8 129.0L1100.5 129.0L1102.1 132.3L1103.3 130.7L1104.6 139.8L1105.9 140.5L1107.1 132.3L1108.3 138.2L1109.6 132.3L1111.2 134.8L1113.2 130.7L1114.2 144.8L1114.9 159.7L1116.2 162.2L1117.1 144.8L1118.2 143.1L1119.2 148.1L1120.4 143.1L1121.5 148.9L1122.5 139.8L1124.2 138.2L1125.4 140.6L1126.5 144.8L1127.2 169.7L1127.5 181.6L1128.2 195.7L1129.8 196.5L1131.2 204.8L1132.5 220.6L1133.7 218.1L1134.8 198.2L1136.1 192.4L1137.5 198.2L1138.6 226.4L1139.1 229.1L1140.3 230.0L1142.0 228.5L1143.6 235.0L1145.0 231.0L1146.1 225.0L1147.4 214.8L1149.1 201.5L1150.8 199.0L1151.9 200.7L1153.1 183.3L1154.1 198.2L1154.7 213.1L1155.7 241.6L1156.9 254.9L1158.1 241.6L1159.4 236.6L1160.7 241.6L1162.4 244.9L1163.5 238.3L1164.7 223.1L1165.7 204.8L1166.8 204.0L1167.7 186.6L1169.0 183.3L1170.2 194.9L1171.3 206.5L1172.7 207.3" fill="none" stroke="url(#fg)" stroke-width="2.4" stroke-linejoin="round" stroke-linecap="round"/>
<rect x="1172.6" y="192" width="22" height="21" rx="3.5" fill="#efd04f"/>
<circle cx="357.9" cy="53.3" r="4" fill="#f3d74c"/><circle cx="579" cy="53.3" r="4" fill="#9499b0"/><circle cx="678.7" cy="53.3" r="4" fill="#626679"/>
</svg>
<div class="b" style="left:209.1px;top:207.1px;width:90.8px;height:22.9px;background:#faf3d2"></div><div class="b" style="left:208.2px;top:238.1px;width:91.7px;height:22.9px;background:#faf3d2"></div><div class="b" style="left:215.9px;top:269.0px;width:84.0px;height:23.0px;background:#e8f4d0"></div><div class="b" style="left:166.4px;top:382.6px;width:133.5px;height:23.2px;background:#4cba7d"></div><div class="b" style="left:225.4px;top:413.6px;width:74.5px;height:23.0px;background:#fae5cb"></div>
<span class="t" style="left:16.00px;transform-origin:0 50%;top:10.0px;font-size:16px;line-height:20px;font-weight:700;color:#fff;transform:scaleX(0.986);-webkit-text-stroke:0.25px currentColor;">CMC Crypto Fear and Greed Index</span><span class="t" style="left:138.50px;transform-origin:0 50%;top:61.2px;font-size:33px;line-height:41px;font-weight:700;color:#fff;transform:scaleX(1.046);-webkit-text-stroke:0.25px currentColor;">59</span><span class="t" style="left:139.70px;transform-origin:0 50%;top:99.6px;font-size:12px;line-height:15px;font-weight:400;color:#a1a7bb;transform:scaleX(0.933);-webkit-text-stroke:0.3px currentColor;">Neutral</span><span class="t" style="left:15.50px;transform-origin:0 50%;top:172.0px;font-size:16px;line-height:20px;font-weight:700;color:#fff;transform:scaleX(0.996);-webkit-text-stroke:0.25px currentColor;">Historical Values</span><span class="t" style="left:15.50px;transform-origin:0 50%;top:211.6px;font-size:12px;line-height:15px;font-weight:400;color:#a1a7bb;transform:scaleX(1.041);-webkit-text-stroke:0.3px currentColor;">Yesterday</span><span class="t" style="left:15.50px;transform-origin:0 50%;top:242.6px;font-size:12px;line-height:15px;font-weight:400;color:#a1a7bb;transform:scaleX(1.014);-webkit-text-stroke:0.3px currentColor;">Last Week</span><span class="t" style="left:15.50px;transform-origin:0 50%;top:273.6px;font-size:12px;line-height:15px;font-weight:400;color:#a1a7bb;transform:scaleX(1.043);-webkit-text-stroke:0.3px currentColor;">Last Month</span><span class="t" style="left:15.50px;transform-origin:0 50%;top:348.2px;font-size:16px;line-height:20px;font-weight:700;color:#fff;transform:scaleX(0.978);-webkit-text-stroke:0.25px currentColor;">Yearly High and Low</span><span class="t" style="left:15.50px;transform-origin:0 50%;top:387.6px;font-size:12px;line-height:15px;font-weight:400;color:#a1a7bb;transform:scaleX(1.021);-webkit-text-stroke:0.3px currentColor;">Yearly High <span style="color:#8e94a8">(Mar 12, 2024)</span></span><span class="t" style="left:15.50px;transform-origin:0 50%;top:418.3px;font-size:12px;line-height:15px;font-weight:400;color:#a1a7bb;transform:scaleX(1.018);-webkit-text-stroke:0.3px currentColor;">Yearly Low <span style="color:#8e94a8">(Sep 07, 2024)</span></span><span class="t" style="left:221.20px;transform-origin:0 50%;top:212.2px;font-size:12px;line-height:15px;font-weight:700;color:#858ca2;transform:scaleX(1.023);-webkit-text-stroke:0.25px currentColor;">Neutral - 58</span><span class="t" style="left:220.30px;transform-origin:0 50%;top:243.2px;font-size:12px;line-height:15px;font-weight:700;color:#858ca2;transform:scaleX(1.037);-webkit-text-stroke:0.25px currentColor;">Neutral - 46</span><span class="t" style="left:228.30px;transform-origin:0 50%;top:274.1px;font-size:12px;line-height:15px;font-weight:700;color:#858ca2;transform:scaleX(1.019);-webkit-text-stroke:0.25px currentColor;">Greed - 62</span><span class="t" style="left:178.70px;transform-origin:0 50%;top:387.8px;font-size:12px;line-height:15px;font-weight:700;color:#fff;transform:scaleX(1.004);-webkit-text-stroke:0.25px currentColor;">Extreme Greed - 92</span><span class="t" style="left:238.00px;transform-origin:0 50%;top:418.7px;font-size:12px;line-height:15px;font-weight:700;color:#858ca2;transform:scaleX(1.023);-webkit-text-stroke:0.25px currentColor;">Fear - 26</span><span class="t" style="left:354.40px;transform-origin:0 50%;top:15.8px;font-size:16px;line-height:20px;font-weight:700;color:#fff;transform:scaleX(0.986);-webkit-text-stroke:0.25px currentColor;">Fear and Greed Index Chart</span><span class="t" style="left:370.30px;transform-origin:0 50%;top:47.1px;font-size:12px;line-height:15px;font-weight:400;color:#a1a7bb;transform:scaleX(1.014);-webkit-text-stroke:0.3px currentColor;">CMC Crypto Fear and Greed Index</span><span class="t" style="left:591.20px;transform-origin:0 50%;top:47.1px;font-size:12px;line-height:15px;font-weight:400;color:#a1a7bb;transform:scaleX(1.015);-webkit-text-stroke:0.3px currentColor;">Bitcoin Price</span><span class="t" style="left:690.60px;transform-origin:0 50%;top:47.1px;font-size:12px;line-height:15px;font-weight:400;color:#a1a7bb;transform:scaleX(1.020);-webkit-text-stroke:0.3px currentColor;">Bitcoin Volume</span><span class="t" style="left:1104.00px;transform-origin:0 50%;top:18.4px;font-size:12px;line-height:15px;font-weight:400;color:#a1a7bb;transform:scaleX(1.064);-webkit-text-stroke:0.3px currentColor;">30d</span><span class="t" style="left:1143.80px;transform-origin:0 50%;top:18.4px;font-size:12px;line-height:15px;font-weight:400;color:#a1a7bb;transform:scaleX(0.948);-webkit-text-stroke:0.3px currentColor;">1y</span><span class="t" style="left:1173.40px;transform-origin:0 50%;top:18.4px;font-size:12px;line-height:15px;font-weight:700;color:#fff;transform:scaleX(0.900);-webkit-text-stroke:0.25px currentColor;">All</span><span class="t" style="right:826.99px;transform-origin:100% 50%;top:78.1px;font-size:11px;line-height:14px;font-weight:400;color:#b9bece;transform:scaleX(1.000);-webkit-text-stroke:0.2px currentColor;">120K</span><span class="t" style="right:826.99px;transform-origin:100% 50%;top:140.4px;font-size:11px;line-height:14px;font-weight:400;color:#b9bece;transform:scaleX(1.000);-webkit-text-stroke:0.2px currentColor;">100K</span><span class="t" style="right:827.01px;transform-origin:100% 50%;top:201.5px;font-size:11px;line-height:14px;font-weight:400;color:#b9bece;transform:scaleX(1.000);-webkit-text-stroke:0.2px currentColor;">80K</span><span class="t" style="right:827.01px;transform-origin:100% 50%;top:263.6px;font-size:11px;line-height:14px;font-weight:400;color:#b9bece;transform:scaleX(1.000);-webkit-text-stroke:0.2px currentColor;">60K</span><span class="t" style="right:827.01px;transform-origin:100% 50%;top:324.4px;font-size:11px;line-height:14px;font-weight:400;color:#b9bece;transform:scaleX(1.000);-webkit-text-stroke:0.2px currentColor;">40K</span><span class="t" style="left:359.90px;transform-origin:0 50%;top:385.7px;font-size:11px;line-height:14px;font-weight:700;color:#d0d3df;transform:scaleX(0.930);-webkit-text-stroke:0.25px currentColor;">USD</span><span class="t" style="left:1176.60px;transform-origin:0 50%;top:78.1px;font-size:11px;line-height:14px;font-weight:400;color:#b9bece;transform:scaleX(1.000);">100</span><span class="t" style="left:1176.60px;transform-origin:0 50%;top:140.4px;font-size:11px;line-height:14px;font-weight:400;color:#b9bece;transform:scaleX(1.000);">80</span><span class="t" style="left:1176.60px;transform-origin:0 50%;top:263.7px;font-size:11px;line-height:14px;font-weight:400;color:#b9bece;transform:scaleX(1.000);">40</span><span class="t" style="left:1176.60px;transform-origin:0 50%;top:324.4px;font-size:11px;line-height:14px;font-weight:400;color:#b9bece;transform:scaleX(1.000);">20</span><span class="t" style="left:1176.50px;transform-origin:0 50%;top:385.9px;font-size:11px;line-height:14px;font-weight:700;color:#d0d3df;transform:scaleX(0.905);-webkit-text-stroke:0.25px currentColor;">F&amp;G</span><span class="t" style="left:388.80px;transform-origin:0 50%;top:396.6px;font-size:12px;line-height:15px;font-weight:400;color:#727a90;transform:scaleX(0.952);">Jul 2023</span><span class="t" style="left:515.00px;transform-origin:0 50%;top:396.6px;font-size:12px;line-height:15px;font-weight:400;color:#727a90;transform:scaleX(0.965);">Oct 2023</span><span class="t" style="left:642.00px;transform-origin:0 50%;top:396.6px;font-size:12px;line-height:15px;font-weight:400;color:#727a90;transform:scaleX(0.932);">Jan 2024</span><span class="t" style="left:767.00px;transform-origin:0 50%;top:396.6px;font-size:12px;line-height:15px;font-weight:400;color:#727a90;transform:scaleX(0.945);">Apr 2024</span><span class="t" style="left:892.00px;transform-origin:0 50%;top:396.6px;font-size:12px;line-height:15px;font-weight:400;color:#727a90;transform:scaleX(0.948);">Jul 2024</span><span class="t" style="left:1018.00px;transform-origin:0 50%;top:396.6px;font-size:12px;line-height:15px;font-weight:400;color:#727a90;transform:scaleX(0.965);">Oct 2024</span><span class="t" style="left:1086.30px;transform-origin:0 50%;top:105.5px;font-size:12px;line-height:15px;font-weight:400;color:#b6bac9;transform:scaleX(0.929);-webkit-text-stroke:0.2px currentColor;">Extreme Greed</span><span class="t" style="left:1132.00px;transform-origin:0 50%;top:166.7px;font-size:12px;line-height:15px;font-weight:400;color:#b6bac9;transform:scaleX(0.896);-webkit-text-stroke:0.2px currentColor;">Greed</span><span class="t" style="left:1125.70px;transform-origin:0 50%;top:229.1px;font-size:12px;line-height:15px;font-weight:400;color:#b6bac9;transform:scaleX(0.935);-webkit-text-stroke:0.2px currentColor;">Neutral</span><span class="t" style="left:1141.10px;transform-origin:0 50%;top:289.8px;font-size:12px;line-height:15px;font-weight:400;color:#b6bac9;transform:scaleX(0.843);-webkit-text-stroke:0.2px currentColor;">Fear</span><span class="t" style="left:1095.40px;transform-origin:0 50%;top:352.7px;font-size:12px;line-height:15px;font-weight:400;color:#b6bac9;transform:scaleX(0.927);-webkit-text-stroke:0.2px currentColor;">Extreme Fear</span><span class="t" style="left:1176.30px;transform-origin:0 50%;top:193.9px;font-size:13px;line-height:16px;font-weight:700;color:#fff;transform:scaleX(1.051);-webkit-text-stroke:0.25px currentColor;">59</span>
</body></html>
